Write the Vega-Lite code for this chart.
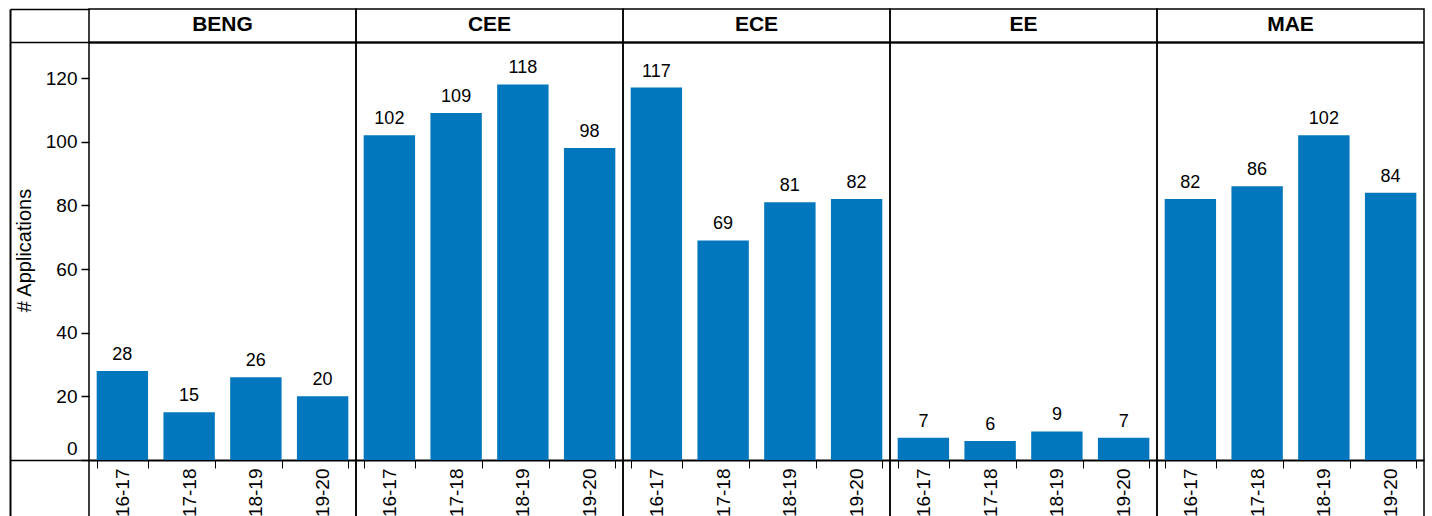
{
  "$schema": "https://vega.github.io/schema/vega-lite/v6.json",
  "padding": {"top": 8, "left": 9, "right": 5, "bottom": 5},
  "bounds": "flush",
  "data": {
    "values": [
      {"dept": "BENG", "year": "16-17", "apps": 28},
      {"dept": "BENG", "year": "17-18", "apps": 15},
      {"dept": "BENG", "year": "18-19", "apps": 26},
      {"dept": "BENG", "year": "19-20", "apps": 20},
      {"dept": "CEE", "year": "16-17", "apps": 102},
      {"dept": "CEE", "year": "17-18", "apps": 109},
      {"dept": "CEE", "year": "18-19", "apps": 118},
      {"dept": "CEE", "year": "19-20", "apps": 98},
      {"dept": "ECE", "year": "16-17", "apps": 117},
      {"dept": "ECE", "year": "17-18", "apps": 69},
      {"dept": "ECE", "year": "18-19", "apps": 81},
      {"dept": "ECE", "year": "19-20", "apps": 82},
      {"dept": "EE", "year": "16-17", "apps": 7},
      {"dept": "EE", "year": "17-18", "apps": 6},
      {"dept": "EE", "year": "18-19", "apps": 9},
      {"dept": "EE", "year": "19-20", "apps": 7},
      {"dept": "MAE", "year": "16-17", "apps": 82},
      {"dept": "MAE", "year": "17-18", "apps": 86},
      {"dept": "MAE", "year": "18-19", "apps": 102},
      {"dept": "MAE", "year": "19-20", "apps": 84}
    ]
  },
  "facet": {"column": {"field": "dept", "type": "nominal", "header": null}},
  "spacing": 0,
  "spec": {
    "width": 267,
    "height": 600,
    "resolve": {"axis": {"y": "independent"}},
    "layer": [
      {
        "mark": {"type": "bar", "color": "#0277bd"},
        "encoding": {
          "x": {
            "field": "year", "type": "ordinal",
            "scale": {"paddingInner": 0.23, "paddingOuter": 0.115},
            "axis": {
              "title": null, "labelAngle": -90, "labelAlign": "right", "labelBaseline": "middle",
              "labelFontSize": 19, "labelColor": "black", "labelPadding": 0,
              "tickBand": "extent", "tickSize": 8, "tickColor": "black", "tickWidth": 1,
              "domainColor": "black", "domainWidth": 2, "offset": -149
            }
          },
          "y": {
            "field": "apps", "type": "quantitative",
            "scale": {"domain": [-46.8, 141.7], "nice": false, "zero": false},
            "axis": {
              "orient": "left", "values": [0, 20, 40, 60, 80, 100, 120], "grid": false, "domain": false,
              "tickSize": 8, "tickColor": "black", "tickWidth": 1.5,
              "labelFontSize": 19, "labelColor": "black", "labelPadding": 4,
              "labelOffset": {"condition": {"test": "datum.value === 0", "value": -12}, "value": 0},
              "title": "# Applications", "titleFontSize": 20, "titleFontWeight": "normal",
              "titleColor": "black", "titlePadding": 11, "titleY": 241
            }
          }
        }
      },
      {
        "mark": {"type": "text", "fontSize": 18, "color": "black", "baseline": "alphabetic", "dy": -11},
        "encoding": {
          "x": {"field": "year", "type": "ordinal"},
          "y": {"field": "apps", "type": "quantitative", "axis": null},
          "text": {"field": "apps", "type": "quantitative"}
        }
      },
      {
        "transform": [{"filter": "datum.year === '16-17'"}],
        "mark": {"type": "text", "fontSize": 21, "fontWeight": "bold", "color": "black", "baseline": "middle", "align": "center"},
        "encoding": {
          "x": {"datum": "17-18", "bandPosition": 1.149},
          "y": {"datum": 136.7, "axis": null},
          "text": {"field": "dept", "type": "nominal"}
        }
      },
      {
        "mark": {"type": "rule", "color": "black", "strokeWidth": 1.5},
        "encoding": {
          "y": {
            "datum": 131.2,
            "axis": {
              "orient": "left", "offset": 79, "values": [0, 131.2, 141.7], "labels": false, "title": null,
              "grid": false, "domain": true, "domainColor": "black", "domainWidth": 2,
              "tickSize": -79, "tickColor": "black", "tickWidth": 1.5
            }
          }
        }
      }
    ]
  },
  "config": {
    "font": "Liberation Sans",
    "view": {"stroke": "black", "strokeWidth": 1.5}
  }
}
